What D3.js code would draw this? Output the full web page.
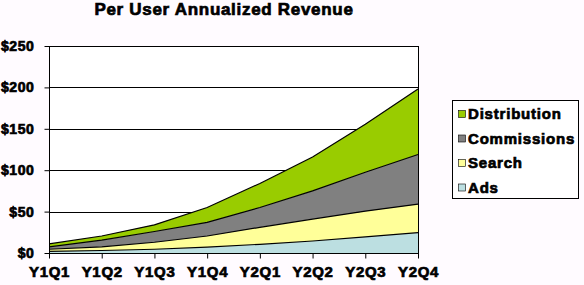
<!DOCTYPE html>
<html>
<head>
<meta charset="utf-8">
<script src="https://cdn.jsdelivr.net/npm/d3@7"></script>
<style>
  body { margin: 0; background: #fffbff; }
  text { font-family: "Liberation Sans", Arial, sans-serif; font-weight: bold; fill: #000; stroke: #000; stroke-width: 0.7px; }
</style>
</head>
<body>
<div class="chart"></div>
<script>
// Per User Annualized Revenue - stacked area

var svgWidth = 584;
var svgHeight = 285;

var margin = { top: 46, right: 166, bottom: 32, left: 49 };
var width = svgWidth - margin.left - margin.right;
var height = svgHeight - margin.top - margin.bottom;

// data
var quarters = ["Y1Q1", "Y1Q2", "Y1Q3", "Y1Q4", "Y2Q1", "Y2Q2", "Y2Q3", "Y2Q4"];
var ads = [2, 3, 4.5, 7, 10.5, 14.5, 19.5, 24.5];
var search = [2.5, 4.5, 8.5, 13.5, 20.5, 26.5, 31, 34.5];
var commissions = [3, 8, 13, 16.5, 24, 34, 47, 60];
var distribution = [3.5, 5, 8, 18, 29, 41, 58, 79];
var seriesNames = ["Ads", "Search", "Commissions", "Distribution"];
var yTicks = [0, 50, 100, 150, 200, 250];

var colors = {
  Ads: "#bcdfe1",
  Search: "#ffff99",
  Commissions: "#808080",
  Distribution: "#99cc00"
};

var rows = quarters.map(function(q, i) {
  return { q: q, Ads: ads[i], Search: search[i], Commissions: commissions[i], Distribution: distribution[i] };
});

var svg = d3.select(".chart")
  .append("svg")
  .attr("width", svgWidth)
  .attr("height", svgHeight);

// title
svg.append("text")
  .attr("x", 224)
  .attr("y", 15)
  .attr("text-anchor", "middle")
  .style("font-size", "17px")
  .style("letter-spacing", "0.7px")
  .text("Per User Annualized Revenue");

var chartGroup = svg.append("g")
  .attr("transform", `translate(${margin.left}, ${margin.top})`);

var xScale = d3.scalePoint().domain(quarters).range([0, width]);
var yScale = d3.scaleLinear().domain([0, 250]).range([height, 0]);

// plot background
chartGroup.append("rect")
  .attr("width", width)
  .attr("height", height)
  .attr("fill", "#fff");

// gridlines
chartGroup.selectAll("line.grid")
  .data(yTicks)
  .enter()
  .append("line")
  .attr("x1", 0)
  .attr("x2", width)
  .attr("y1", d => Math.round(yScale(d)) + 0.5)
  .attr("y2", d => Math.round(yScale(d)) + 0.5)
  .attr("stroke", "#000");

// stacked areas
var stack = d3.stack().keys(seriesNames);
var layers = stack(rows);

var area = d3.area()
  .x(d => xScale(d.data.q))
  .y0(d => yScale(d[0]))
  .y1(d => yScale(d[1]));

var topLine = d3.line()
  .x(d => xScale(d.data.q))
  .y(d => yScale(d[1]));

chartGroup.selectAll("path.area")
  .data(layers)
  .enter()
  .append("path")
  .attr("d", area)
  .attr("fill", d => colors[d.key]);

chartGroup.selectAll("path.top")
  .data(layers)
  .enter()
  .append("path")
  .attr("d", topLine)
  .attr("fill", "none")
  .attr("stroke", "#000")
  .attr("stroke-width", 1.2);

// border
chartGroup.append("rect")
  .attr("x", 0.5)
  .attr("y", 0.5)
  .attr("width", width)
  .attr("height", height)
  .attr("fill", "none")
  .attr("stroke", "#000");

// y axis
var leftAxis = d3.axisLeft(yScale)
  .tickValues(yTicks)
  .tickSize(5)
  .tickPadding(10)
  .tickFormat(d => "$" + d);

chartGroup.append("g")
  .attr("transform", "translate(0.5,0)")
  .call(leftAxis)
  .call(g => g.select(".domain").remove())
  .call(g => g.selectAll("text").style("font-size", "14px").style("letter-spacing", "0.6px").attr("font-family", null));

// x axis
var bottomAxis = d3.axisBottom(xScale)
  .tickSize(5)
  .tickPadding(8);

chartGroup.append("g")
  .attr("transform", `translate(0, ${height + 0.5})`)
  .call(bottomAxis)
  .call(g => g.select(".domain").remove())
  .call(g => g.selectAll("text").style("font-size", "15px").style("letter-spacing", "0.7px").attr("font-family", null));

chartGroup.selectAll(".tick line").attr("stroke", "#000");

// legend
var legend = svg.append("g").attr("transform", "translate(452,100)");

legend.append("rect")
  .attr("x", 0.5)
  .attr("y", 0.5)
  .attr("width", 126)
  .attr("height", 98)
  .attr("fill", "#fff")
  .attr("stroke", "#000");

var legendOrder = seriesNames.slice().reverse();

var items = legend.selectAll("g.item")
  .data(legendOrder)
  .enter()
  .append("g")
  .attr("transform", (d, i) => `translate(6, ${14 + i * 24.5})`);

items.append("rect")
  .attr("x", 0.5)
  .attr("y", -3.5)
  .attr("width", 7)
  .attr("height", 7)
  .attr("fill", d => colors[d])
  .attr("stroke", "#000")
  .attr("stroke-width", 0.6);

items.append("text")
  .attr("x", 10)
  .attr("y", 5)
  .style("font-size", "15px")
  .style("letter-spacing", "0.8px")
  .text(d => d);
</script>
</body>
</html>
